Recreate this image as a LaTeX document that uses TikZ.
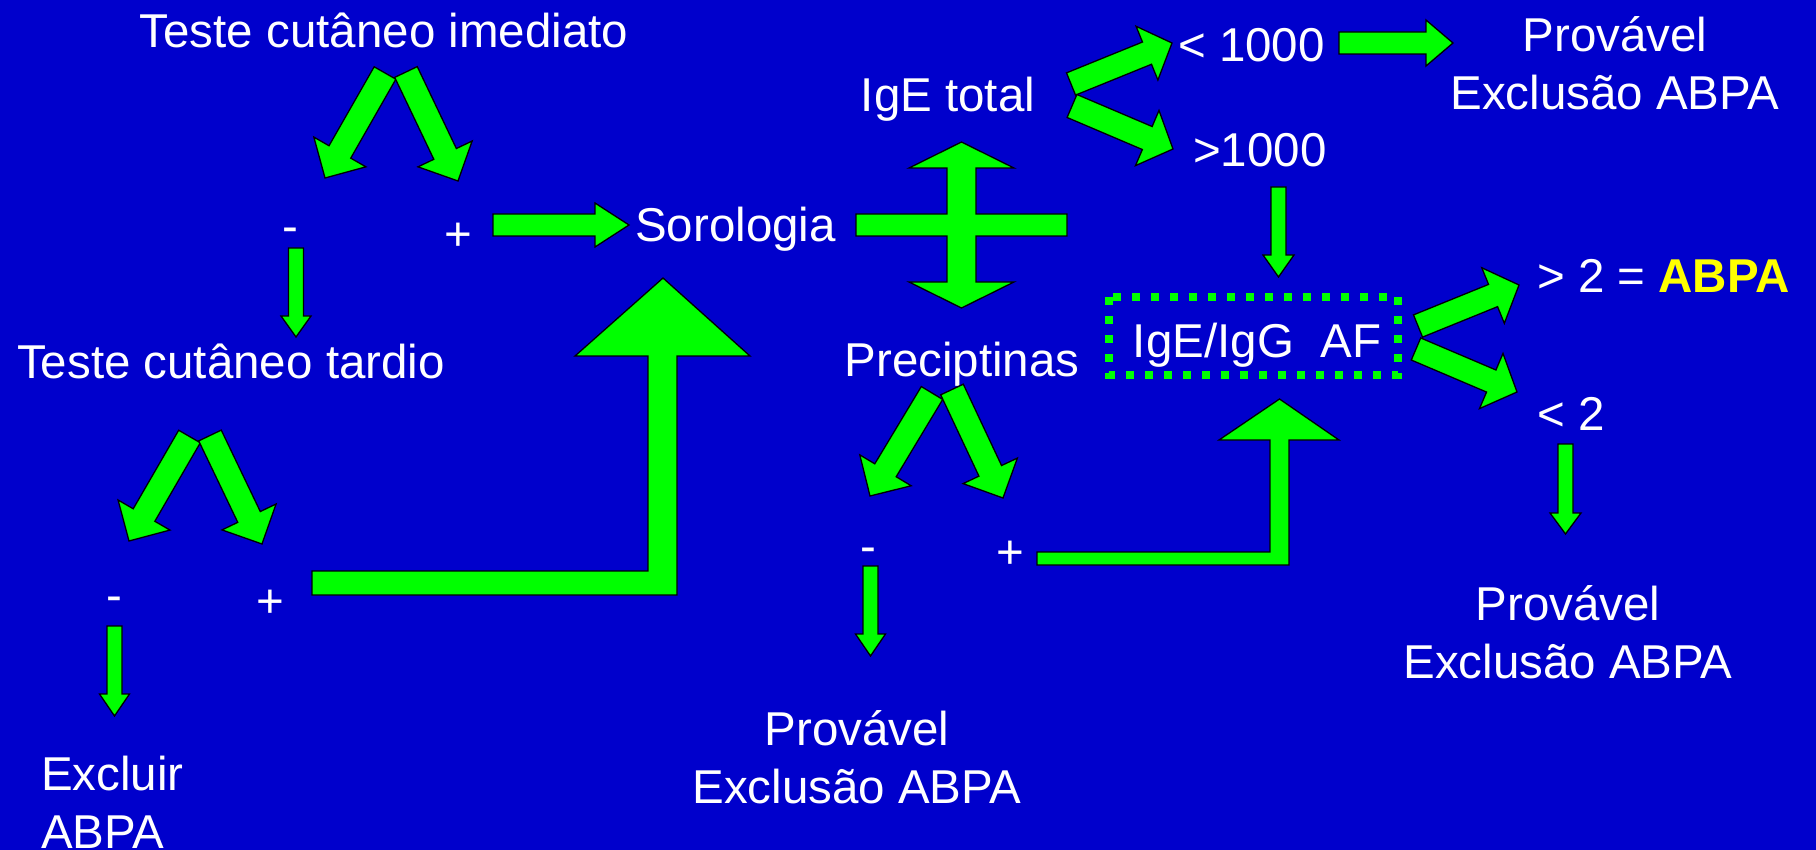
\documentclass[tikz,border=0pt]{standalone}
\usepackage{fontspec}
\setmainfont{Liberation Sans}
\usetikzlibrary{calc}

\definecolor{slideblue}{RGB}{0,0,204}
\definecolor{arrowgreen}{RGB}{0,255,0}
\definecolor{abpayellow}{RGB}{255,255,0}

\tikzset{
  blockarrow/.style={draw=black, fill=arrowgreen, line width=1.3pt, line join=miter},
  lbl/.style={text=white, inner sep=0pt, font=\fontsize{47.5}{58}\selectfont},
  sign/.style={lbl, anchor=base},
  dotbox/.style={draw=arrowgreen, line width=8pt, dash pattern=on 8pt off 11pt},
}

% fat arrow: tail, tip, shaft width, head width, head length
\newcommand\fatarrow[5]{%
  \path let \p1=($(#2)-(#1)$) in
    \pgfextra{\pgfmathparse{atan2(\y1,\x1)}\xdef\fatang{\pgfmathresult}%
      \pgfmathparse{veclen(\x1,\y1)}\xdef\fatlen{\pgfmathresult}};
  \draw[blockarrow, shift={(#1)}, rotate=\fatang, x=1pt, y=1pt]
    (0,-#3/2) -- (\fatlen-#5,-#3/2) -- (\fatlen-#5,-#4/2) -- (\fatlen,0)
    -- (\fatlen-#5,#4/2) -- (\fatlen-#5,#3/2) -- (0,#3/2) -- cycle;
}

\begin{document}
\begin{tikzpicture}[x=1pt, y=-1pt]
\fill[slideblue] (0,0) rectangle (1816,850);
\useasboundingbox (0,0) rectangle (1816,850);

% skin tests
\node[lbl, anchor=base] (imediato) at (384,48) {Teste cutâneo imediato};
\fatarrow{385,73}{325,178}{25}{60}{30}
\fatarrow{406,72}{458,181}{25}{60}{30}
\node[sign] (neg1) at (290,243) {-};
\node[sign] (pos1) at (458,251) {+};
\fatarrow{296,248}{296,337}{15}{30}{21}
\fatarrow{493,225}{629,225}{22}{44}{34}
\node[lbl, anchor=base west] (sorologia) at (635,242) {Sorologia};

\node[lbl, anchor=base] (tardio) at (231,378) {Teste cutâneo tardio};
\fatarrow{189.5,436.5}{129,541}{25}{60}{30}
\fatarrow{210,435.5}{262,544}{25}{60}{30}
\node[sign] (neg2) at (114,611) {-};
\node[sign] (pos2) at (270,617) {+};
\fatarrow{114.5,626}{114.5,716}{15}{30}{22}
\node[lbl, anchor=base west, align=left] (excluir) at (41,848) {Excluir\\ABPA};
\draw[blockarrow] (312,571) -- (648,571) -- (648,356) -- (575,356) -- (663,278)
  -- (750,356) -- (677,356) -- (677,595) -- (312,595) -- cycle;

% serology
\draw[blockarrow] (856,214) -- (947,214) -- (947,168) -- (909,168) -- (961.5,142)
  -- (1014,168) -- (976,168) -- (976,214) -- (1067,214) -- (1067,236) -- (976,236)
  -- (976,282) -- (1014,282) -- (961.5,308) -- (909,282) -- (947,282) -- (947,236)
  -- (856,236) -- cycle;
\node[lbl, anchor=base] (igetotal) at (948,112) {IgE total};
\node[lbl, anchor=base] (precip) at (962,377) {Preciptinas};
\fatarrow{932,393}{870,496}{25}{60}{30}
\fatarrow{952,389.5}{1003,498}{25}{60}{30}
\node[sign] (neg3) at (868,562) {-};
\node[sign] (pos3) at (1010,568) {+};
\fatarrow{870.5,566}{870.5,656}{15}{30}{22}
\node[lbl, anchor=base, align=center] (provavel1) at (857,803) {Provável\\Exclusão ABPA};
\draw[blockarrow] (1037,552) -- (1270,552) -- (1270,440) -- (1219,440) -- (1279.5,399)
  -- (1339,440) -- (1289,440) -- (1289,565) -- (1037,565) -- cycle;

% total IgE
\fatarrow{1071,84}{1172,43}{24}{58}{27}
\fatarrow{1072,106}{1173,149}{25}{60}{28}
\node[lbl, anchor=base west] (menos1000) at (1178,62) {< 1000};
\node[lbl, anchor=base west] (mais1000) at (1193,167) {>1000};
\fatarrow{1339,43}{1453,43}{22}{46}{27}
\node[lbl, anchor=base, align=center] (provavel2) at (1615,110) {Provável\\Exclusão ABPA};
\fatarrow{1278.5,187}{1278.5,277}{15}{31}{22}

% IgE/IgG ratio
\draw[dotbox] (1109,297) rectangle (1398,375);
\node[lbl, anchor=base] (razao) at (1257,358) {IgE/IgG~~AF};
\fatarrow{1418,326}{1519,285}{24}{60}{28}
\fatarrow{1416,349}{1517,392}{24}{60}{28}
\node[lbl, anchor=base west] (maior2) at (1537,293) {> 2 = \textcolor{abpayellow}{\bfseries ABPA}};
\node[lbl, anchor=base west] (menor2) at (1537,430) {< 2};
\fatarrow{1565.5,444}{1565.5,534}{15}{31}{21}
\node[lbl, anchor=base, align=center] (provavel3) at (1568,678) {Provável\\Exclusão ABPA};
\end{tikzpicture}
\end{document}
